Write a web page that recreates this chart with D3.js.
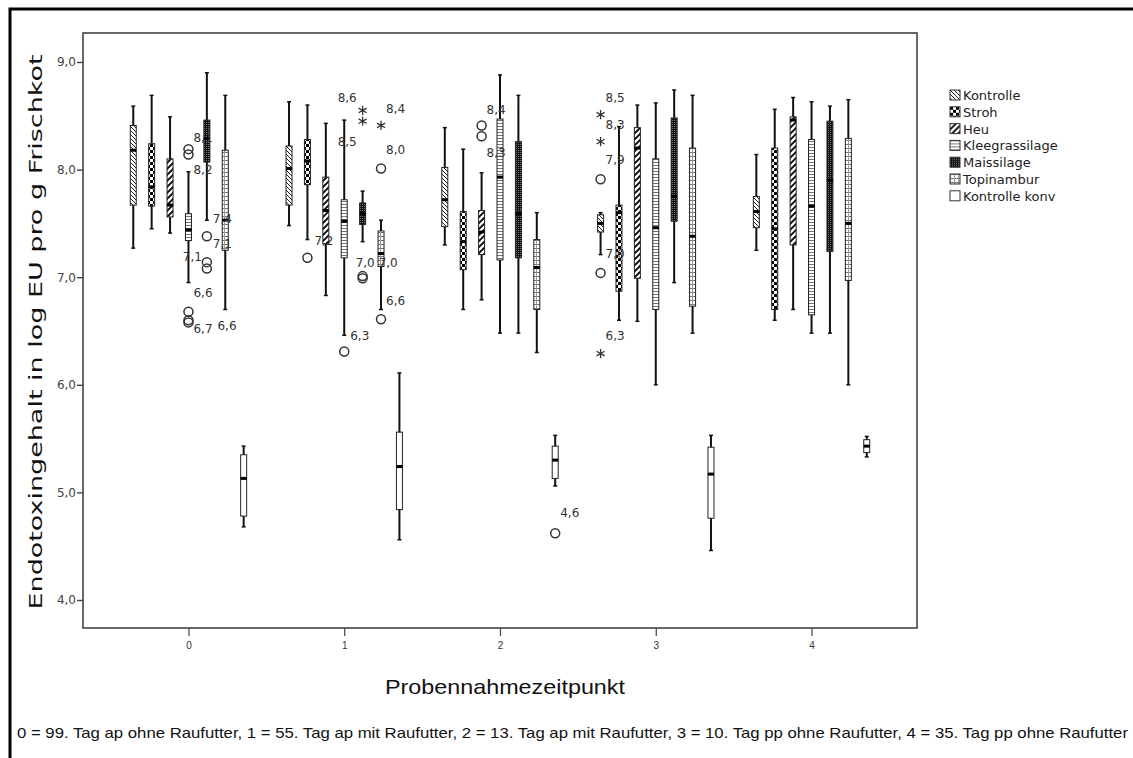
<!DOCTYPE html>
<html>
<head>
<meta charset="utf-8">
<script src="https://cdn.jsdelivr.net/npm/d3@7"></script>
<style>
  html, body { margin: 0; padding: 0; background: #fff; }
  svg { display: block; }
</style>
</head>
<body>
<svg id="chart" width="1133" height="758"></svg>
<script>
// Sampling time points (x categories)
const timePoints = ["0", "1", "2", "3", "4"];

// Feeding groups (one box per group and time point)
const groups = ["Kontrolle", "Stroh", "Heu", "Kleegrassilage", "Maissilage", "Topinambur", "Kontrolle konv"];

// Box statistics per group: [lower whisker, Q1, median, Q3, upper whisker] for time points 0..4
const kontrolle     = [[7.27, 7.67, 8.18, 8.41, 8.59], [7.48, 7.67, 8.01, 8.22, 8.63], [7.30, 7.47, 7.72, 8.02, 8.39], [7.21, 7.42, 7.50, 7.58, 7.60], [7.25, 7.46, 7.61, 7.75, 8.14]];
const stroh         = [[7.45, 7.66, 7.84, 8.24, 8.69], [7.35, 7.86, 8.08, 8.28, 8.60], [6.70, 7.07, 7.33, 7.61, 8.19], [6.60, 6.87, 7.60, 7.67, 8.40], [6.60, 6.70, 7.45, 8.20, 8.56]];
const heu           = [[7.41, 7.56, 7.67, 8.10, 8.49], [6.83, 7.31, 7.62, 7.93, 8.43], [6.79, 7.21, 7.42, 7.62, 7.97], [6.59, 6.99, 8.20, 8.39, 8.60], [6.70, 7.30, 8.46, 8.49, 8.67]];
const kleegras      = [[6.95, 7.34, 7.44, 7.59, 7.98], [6.46, 7.18, 7.52, 7.72, 8.46], [6.48, 7.16, 7.93, 8.47, 8.88], [6.00, 6.70, 7.46, 8.10, 8.62], [6.48, 6.65, 7.66, 8.28, 8.63]];
const maissilage    = [[7.53, 8.07, 8.29, 8.46, 8.90], [7.33, 7.49, 7.59, 7.69, 7.80], [6.48, 7.18, 7.59, 8.26, 8.69], [6.95, 7.52, 7.75, 8.48, 8.74], [6.48, 7.24, 7.90, 8.45, 8.59]];
const topinambur    = [[6.70, 7.25, 7.53, 8.18, 8.69], [6.70, 7.10, 7.22, 7.43, 7.53], [6.30, 6.70, 7.09, 7.35, 7.60], [6.48, 6.73, 7.38, 8.20, 8.69], [6.00, 6.97, 7.50, 8.29, 8.65]];
const kontrolleKonv = [[4.68, 4.78, 5.13, 5.35, 5.43], [4.56, 4.84, 5.24, 5.56, 6.11], [5.06, 5.13, 5.30, 5.43, 5.53], [4.46, 4.76, 5.17, 5.42, 5.53], [5.33, 5.37, 5.43, 5.49, 5.52]];
const boxSeries = [kontrolle, stroh, heu, kleegras, maissilage, topinambur, kontrolleKonv];

// Outliers: [time point, group index, value, marker ("o" mild, "*" extreme), case label]
const outliers = [
  [0, 3, 8.19, "o", "8,2"], [0, 3, 8.14, "o", "8,1"],
  [0, 4, 7.38, "o", "7,4"], [0, 4, 7.14, "o", "7,1"], [0, 4, 7.08, "o", "7,1"],
  [0, 3, 6.68, "o", "6,7"], [0, 3, 6.60, "o", "6,6"], [0, 3, 6.58, "o", "6,6"],
  [1, 1, 7.18, "o", "7,2"], [1, 3, 6.31, "o", "6,3"],
  [1, 4, 8.55, "*", "8,6"], [1, 4, 8.45, "*", "8,5"], [1, 4, 7.01, "o", "7,0"], [1, 4, 6.99, "o", "7,0"],
  [1, 5, 8.41, "*", "8,4"], [1, 5, 8.01, "o", "8,0"], [1, 5, 6.61, "o", "6,6"],
  [2, 2, 8.41, "o", "8,4"], [2, 2, 8.31, "o", "8,3"], [2, 6, 4.62, "o", "4,6"],
  [3, 0, 8.51, "*", "8,5"], [3, 0, 8.26, "*", "8,3"], [3, 0, 7.91, "o", "7,9"], [3, 0, 7.04, "o", "7,0"], [3, 0, 6.29, "*", "6,3"]
];

// Case-label placement next to each outlier marker (dx, dy in px), same order as outliers
const labelOffsets = [
  [5, 25], [5, -13],
  [6, -13], [6, -14], [-24, -8],
  [5, 21], [5, -23], [29, 8],
  [7, -13], [6, -11],
  [-25, -8], [-25, 25], [-7, -9], [16, -11],
  [5, -12], [5, -15], [5, -14],
  [5, -11], [5, 21], [5, -16],
  [5, -13], [5, -13], [5, -15], [5, -15], [5, -14]
];

const yTicks = [4, 5, 6, 7, 8, 9];
const yTitle = "Endotoxingehalt in log EU pro g Frischkot";
const xTitle = "Probennahmezeitpunkt";
const caption = "0 = 99. Tag ap ohne Raufutter, 1 = 55. Tag ap mit Raufutter, 2 = 13. Tag ap mit Raufutter, 3 = 10. Tag pp ohne Raufutter, 4 = 35. Tag pp ohne Raufutter";

// ---------------------------------------------------------------
const svg = d3.select("#chart");
const fmt = v => d3.format(".1f")(v).replace(".", ",");

const plot = { left: 83, top: 33, right: 917, bottom: 628 };

// outer frame of the figure (open to the right and bottom edges)
svg.append("rect")
  .attr("x", 10).attr("y", 9).attr("width", 1140).attr("height", 780)
  .attr("fill", "none").attr("stroke", "#000").attr("stroke-width", 3);

// fill patterns for the groups
const defs = svg.append("defs");
function pat(id, w, h, draw) {
  const p = defs.append("pattern").attr("id", id).attr("patternUnits", "userSpaceOnUse")
    .attr("width", w).attr("height", h);
  p.append("rect").attr("width", w).attr("height", h).attr("fill", "#fff");
  draw(p);
}
pat("p-kontrolle", 4, 4, p => {
  p.append("path").attr("d", "M-1,-1 L5,5 M-1,3 L1,5 M3,-1 L5,1").attr("stroke", "#222").attr("stroke-width", 1);
});
pat("p-stroh", 6, 6, p => {
  p.append("rect").attr("x", 0).attr("y", 0).attr("width", 3).attr("height", 3).attr("fill", "#000");
  p.append("rect").attr("x", 3).attr("y", 3).attr("width", 3).attr("height", 3).attr("fill", "#000");
});
pat("p-heu", 6, 6, p => {
  p.append("path").attr("d", "M-1,7 L7,-1 M-4,4 L4,-4 M2,10 L10,2").attr("stroke", "#000").attr("stroke-width", 1.8);
});
pat("p-klee", 3, 3, p => {
  p.append("rect").attr("x", 0).attr("y", 0).attr("width", 3).attr("height", 1).attr("fill", "#777");
});
pat("p-mais", 2, 2, p => {
  p.select("rect").attr("fill", "#111");
  p.append("rect").attr("x", 0).attr("y", 0).attr("width", 1).attr("height", 1).attr("fill", "#777");
});
pat("p-topi", 4, 4, p => {
  p.append("rect").attr("x", 0).attr("y", 0).attr("width", 4).attr("height", 1).attr("fill", "#777");
  p.append("rect").attr("x", 0).attr("y", 0).attr("width", 1).attr("height", 4).attr("fill", "#999");
});
const fills = ["url(#p-kontrolle)", "url(#p-stroh)", "url(#p-heu)", "url(#p-klee)", "url(#p-mais)", "url(#p-topi)", "#fff"];

// scales
const x = d3.scalePoint().domain(timePoints).range([plot.left, plot.right]).padding(0.677);
const inner = d3.scalePoint().domain(groups).range([-55.2, 55.2]);
const y = d3.scaleLinear().domain([4, 9]).range([600, 62]);

// plot frame
svg.append("rect")
  .attr("x", plot.left).attr("y", plot.top)
  .attr("width", plot.right - plot.left).attr("height", plot.bottom - plot.top)
  .attr("fill", "none").attr("stroke", "#444").attr("stroke-width", 1.6);

// y axis ticks and labels
const yAxis = svg.append("g").attr("transform", `translate(${plot.left},0)`)
  .call(d3.axisLeft(y).tickValues(yTicks).tickSize(6).tickFormat(fmt));
yAxis.select(".domain").remove();
yAxis.selectAll(".tick line").attr("stroke", "#444").attr("stroke-width", 1.4);
yAxis.selectAll(".tick text").attr("x", -7).attr("font-family", "DejaVu Sans, sans-serif")
  .attr("font-size", 12).attr("fill", "#444");

// x axis ticks and labels
const xAxis = svg.append("g").attr("transform", `translate(0,${plot.bottom})`)
  .call(d3.axisBottom(x).tickSize(8));
xAxis.select(".domain").remove();
xAxis.selectAll(".tick line").attr("stroke", "#444").attr("stroke-width", 1.2);
xAxis.selectAll(".tick text").attr("y", 14).attr("font-family", "Liberation Sans, sans-serif")
  .attr("font-size", 10).attr("fill", "#333");

// axis titles and caption
svg.append("text")
  .attr("transform", `translate(42,332) rotate(-90)`)
  .attr("text-anchor", "middle")
  .attr("font-family", "DejaVu Sans, sans-serif").attr("font-size", 18).attr("fill", "#111")
  .attr("textLength", 555).attr("lengthAdjust", "spacingAndGlyphs")
  .text(yTitle);
svg.append("text")
  .attr("x", 505).attr("y", 694).attr("text-anchor", "middle")
  .attr("font-family", "Liberation Sans, sans-serif").attr("font-size", 21).attr("fill", "#111")
  .attr("textLength", 240).attr("lengthAdjust", "spacingAndGlyphs")
  .text(xTitle);
svg.append("text")
  .attr("x", 17).attr("y", 738)
  .attr("font-family", "Liberation Sans, sans-serif").attr("font-size", 15).attr("fill", "#111")
  .attr("textLength", 1111).attr("lengthAdjust", "spacingAndGlyphs")
  .text(caption);

// boxes
const boxW = 6;
const boxes = [];
boxSeries.forEach((series, gi) => {
  series.forEach((s, ti) => boxes.push({ gi, ti, lo: s[0], q1: s[1], med: s[2], q3: s[3], hi: s[4] }));
});
const bx = d => x(timePoints[d.ti]) + inner(groups[d.gi]);

const bg = svg.append("g").selectAll("g").data(boxes).join("g");
bg.append("line")
  .attr("x1", bx).attr("x2", bx)
  .attr("y1", d => y(d.hi)).attr("y2", d => y(d.lo))
  .attr("stroke", "#111").attr("stroke-width", 2);
bg.append("line").attr("x1", d => bx(d) - 2).attr("x2", d => bx(d) + 2)
  .attr("y1", d => y(d.hi)).attr("y2", d => y(d.hi)).attr("stroke", "#111").attr("stroke-width", 1.5);
bg.append("line").attr("x1", d => bx(d) - 2).attr("x2", d => bx(d) + 2)
  .attr("y1", d => y(d.lo)).attr("y2", d => y(d.lo)).attr("stroke", "#111").attr("stroke-width", 1.5);
bg.append("rect")
  .attr("x", d => bx(d) - boxW / 2).attr("width", boxW)
  .attr("y", d => y(d.q3)).attr("height", d => y(d.q1) - y(d.q3))
  .attr("fill", d => fills[d.gi]).attr("stroke", "#222").attr("stroke-width", 1);
bg.append("rect")
  .attr("x", d => bx(d) - boxW / 2).attr("width", boxW)
  .attr("y", d => y(d.med) - 1.5).attr("height", 3)
  .attr("fill", "#000");

// outliers with case labels
const og = svg.append("g");
outliers.forEach((o, i) => {
  const [ti, gi, v, kind, lab] = o;
  const cx = x(timePoints[ti]) + inner(groups[gi]);
  const cy = y(v);
  if (kind === "o") {
    og.append("circle").attr("cx", cx).attr("cy", cy).attr("r", 4.5)
      .attr("fill", "none").attr("stroke", "#333").attr("stroke-width", 1.5);
  } else {
    og.append("path").attr("transform", `translate(${cx},${cy})`)
      .attr("d", d3.symbol(d3.symbolAsterisk || d3.symbolCross, 60)())
      .attr("fill", "none").attr("stroke", "#333").attr("stroke-width", 1.3);
  }
  const [dx, dy] = labelOffsets[i];
  og.append("text").attr("x", cx + dx).attr("y", cy + dy)
    .attr("font-family", "DejaVu Sans, sans-serif").attr("font-size", 12).attr("fill", "#333")
    .text(lab);
});

// legend
const lg = svg.append("g").attr("transform", "translate(950,90)");
groups.forEach((g, i) => {
  const row = lg.append("g").attr("transform", `translate(0,${i * 16.8})`);
  row.append("rect").attr("x", 0).attr("y", 0).attr("width", 10).attr("height", 10)
    .attr("fill", fills[i]).attr("stroke", "#333").attr("stroke-width", 1);
  row.append("text").attr("x", 13).attr("y", 10)
    .attr("font-family", "DejaVu Sans, sans-serif").attr("font-size", 13).attr("fill", "#222")
    .text(g);
});
</script>
</body>
</html>
